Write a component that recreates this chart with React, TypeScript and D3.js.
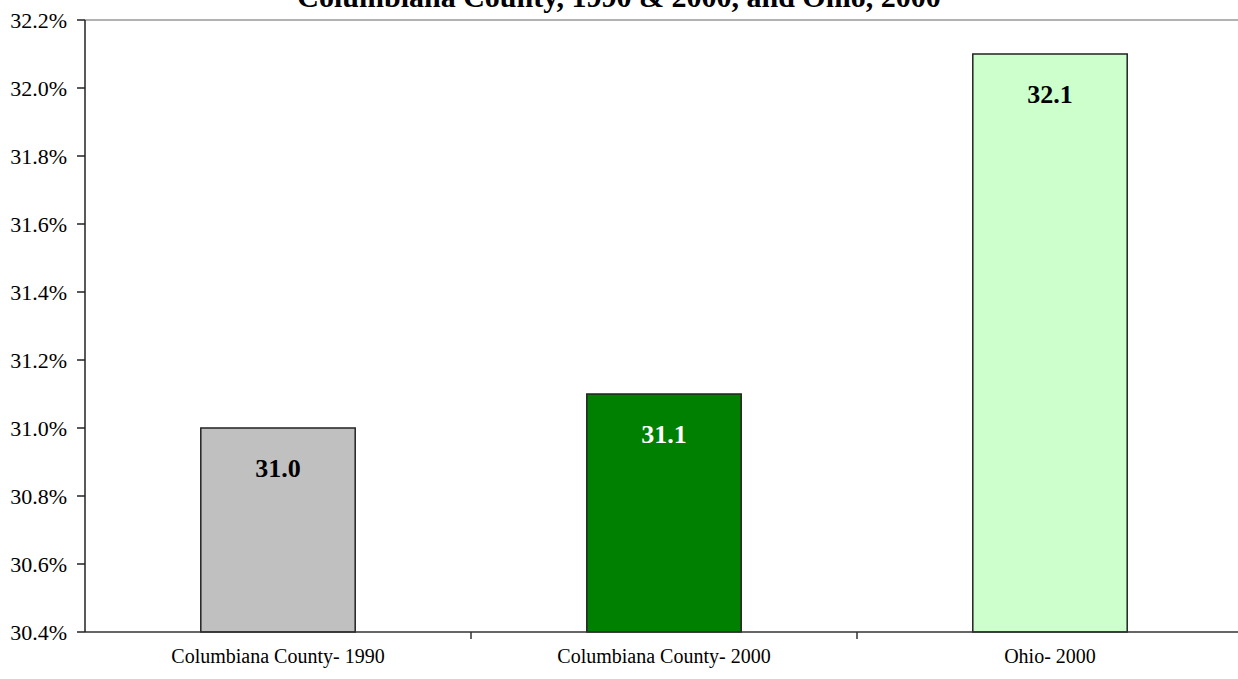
import React from "react";
import * as d3 from "d3";

const categories = ["Columbiana County- 1990", "Columbiana County- 2000", "Ohio- 2000"];
const values = [31.0, 31.1, 32.1];
const barColors = ["#C0C0C0", "#008000", "#CCFFCC"];
const labelColors = ["#000000", "#FFFFFF", "#000000"];
const yTicks = [30.4, 30.6, 30.8, 31.0, 31.2, 31.4, 31.6, 31.8, 32.0, 32.2];
const title = "Columbiana County, 1990 & 2000, and Ohio, 2000";

const W = 1238;
const H = 679;
const left = 85;
const right = 1243;
const top = 20;
const bottom = 632;
const font = "'Liberation Serif', 'Times New Roman', serif";

export default function App() {
  const x = d3.scaleBand<string>().domain(categories).range([left, right]).paddingInner(0.6).paddingOuter(0.3);
  const band = d3.scaleBand<string>().domain(categories).range([left, right]);
  const y = d3.scaleLinear().domain([30.4, 32.2]).range([bottom, top]);

  return (
    <svg width={W} height={H} style={{ position: "fixed", left: 0, top: 0, background: "#fff" }}>
      <rect x={0} y={0} width={W} height={H} fill="#fff" />
      <line x1={left} x2={W} y1={top} y2={top} stroke="#999" strokeWidth={1.5} />
      {categories.map((c, i) => (
        <g key={c}>
          <rect
            x={x(c)}
            y={y(values[i])}
            width={x.bandwidth()}
            height={bottom - y(values[i])}
            fill={barColors[i]}
            stroke="#222"
            strokeWidth={1.5}
          />
          <text
            x={(x(c) as number) + x.bandwidth() / 2}
            y={y(values[i]) + 49}
            textAnchor="middle"
            fontFamily={font}
            fontWeight="bold"
            fontSize={26}
            fill={labelColors[i]}
          >
            {values[i].toFixed(1)}
          </text>
          <text
            x={(band(c) as number) + band.bandwidth() / 2}
            y={663}
            textAnchor="middle"
            fontFamily={font}
            fontSize={20}
            fill="#000"
          >
            {c}
          </text>
        </g>
      ))}
      <line x1={left} x2={W} y1={bottom} y2={bottom} stroke="#333" strokeWidth={1.5} />
      {categories.slice(1).map((c) => (
        <line key={c} x1={band(c)} x2={band(c)} y1={bottom} y2={bottom + 7} stroke="#333" strokeWidth={1.5} />
      ))}
      <line x1={left} x2={left} y1={top} y2={bottom} stroke="#222" strokeWidth={1.5} />
      {yTicks.map((t) => (
        <g key={t}>
          <line x1={left - 8} x2={left} y1={y(t)} y2={y(t)} stroke="#222" strokeWidth={1.5} />
          <text
            x={67}
            y={y(t)}
            dy="0.35em"
            textAnchor="end"
            fontFamily={font}
            fontSize={22}
            fill="#000"
          >
            {t.toFixed(1) + "%"}
          </text>
        </g>
      ))}
      <text x={619} y={7} textAnchor="middle" fontFamily={font} fontWeight="bold" fontSize={30} fill="#000">
        {title}
      </text>
    </svg>
  );
}
